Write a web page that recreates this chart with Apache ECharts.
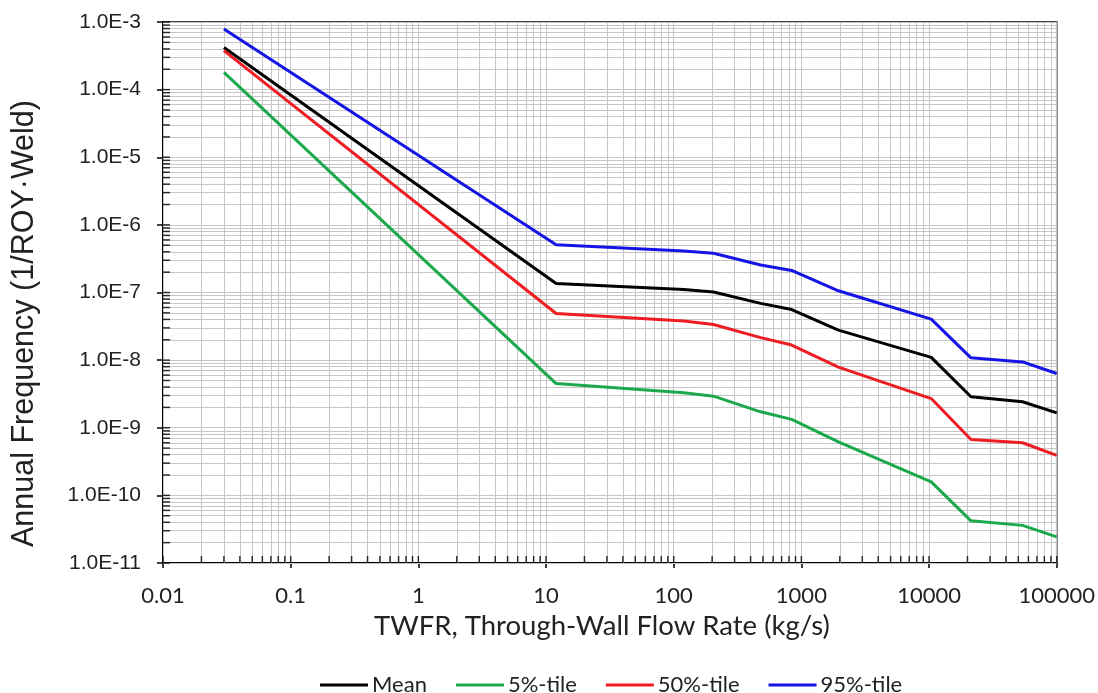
<!DOCTYPE html>
<html>
<head>
<meta charset="utf-8">
<script src="https://cdn.jsdelivr.net/npm/echarts@6/dist/echarts.min.js"></script>
<style>
html,body{margin:0;padding:0;background:#fff;}
#chart{width:1098px;height:693px;}
</style>
</head>
<body>
<div id="chart"></div>
<script>
// ---- data ----
const xVals   = [0.03, 12, 120, 205, 480, 840, 1950, 10400, 21300, 54000, 100000];
const meanVals = [4.2e-4, 1.36e-7, 1.11e-7, 1.02e-7, 6.9e-8, 5.6e-8, 2.78e-8, 1.1e-8, 2.87e-9, 2.42e-9, 1.66e-9];
const p5Vals   = [1.8e-4, 4.5e-9, 3.3e-9, 2.93e-9, 1.72e-9, 1.33e-9, 6.2e-10, 1.58e-10, 4.2e-11, 3.6e-11, 2.43e-11];
const p50Vals  = [3.77e-4, 4.9e-8, 3.78e-8, 3.37e-8, 2.15e-8, 1.67e-8, 7.9e-9, 2.7e-9, 6.7e-10, 6.0e-10, 3.9e-10];
const p95Vals  = [7.9e-4, 5.1e-7, 4.1e-7, 3.8e-7, 2.55e-7, 2.12e-7, 1.06e-7, 4.04e-8, 1.08e-8, 9.4e-9, 6.35e-9];
const seriesNames = ['Mean', '5%-tile', '50%-tile', '95%-tile'];
const xTickLabels = ['0.01', '0.1', '1', '10', '100', '1000', '10000', '100000'];
const yTickLabels = ['1.0E-11', '1.0E-10', '1.0E-9', '1.0E-8', '1.0E-7', '1.0E-6', '1.0E-5', '1.0E-4', '1.0E-3'];
const xExpMin = -2, xExpMax = 5, yExpMin = -11, yExpMax = -3;

// ---- helpers ----
const colors = ['#000000', '#1ba94c', '#ee1d23', '#1414e6'];
const valueSets = [meanVals, p5Vals, p50Vals, p95Vals];
function pairs(xs, ys) { return xs.map((x, i) => [x, ys[i]]); }
function logPositions(eMin, eMax) {
  const out = [];
  for (let e = eMin; e < eMax; e++) for (let k = 1; k <= 9; k++) out.push(k * Math.pow(10, e));
  out.push(Math.pow(10, eMax));
  return out;
}
const xGrid = logPositions(xExpMin, xExpMax);
const yGrid = logPositions(yExpMin, yExpMax);
const xMin = Math.pow(10, xExpMin), xMax = Math.pow(10, xExpMax);
const yMin = Math.pow(10, yExpMin), yMax = Math.pow(10, yExpMax);

const calibri = 'Lato, "Open Sans", sans-serif';
const arial = '"Liberation Sans", Arial, sans-serif';

const chart = echarts.init(document.getElementById('chart'), null, { renderer: 'canvas' });

const lineSeries = seriesNames.map((n, i) => ({
  name: n, type: 'line', data: pairs(xVals, valueSets[i]),
  showSymbol: false, symbol: 'none', z: 5,
  lineStyle: { color: colors[i], width: 3 }, itemStyle: { color: colors[i] }
}));

const gridLineStyle = { color: '#c6c6c6', width: 1, type: 'solid' };

const helperSeries = [
  { // grid lines
    name: 'gridlines', type: 'line', data: [], silent: true, z: 1, symbol: 'none',
    markLine: { silent: true, symbol: ['none', 'none'], label: { show: false }, animation: false,
      lineStyle: gridLineStyle,
      data: xGrid.map(v => [{ coord: [v, yMin] }, { coord: [v, yMax] }])
        .concat(yGrid.map(v => [{ coord: [xMin, v] }, { coord: [xMax, v] }])) }
  },
  { // inner ticks along x axis
    name: 'xticks', type: 'scatter', clip: false, silent: true, z: 6,
    data: xGrid.map(v => [v, yMin]),
    symbol: 'rect', symbolSize: [1.5, 7], symbolOffset: [0, -3.5],
    itemStyle: { color: '#000' }
  },
  { // inner ticks along y axis
    name: 'yticks', type: 'scatter', clip: false, silent: true, z: 6,
    data: yGrid.map(v => [xMin, v]),
    symbol: 'rect', symbolSize: [7, 1.5], symbolOffset: [3.5, 0],
    itemStyle: { color: '#000' }
  }
];

const option = {
  animation: false,
  backgroundColor: '#fff',
  grid: { left: 163, right: 39, top: 22, bottom: 130, show: true, borderColor: '#000', borderWidth: 1.5, backgroundColor: 'transparent' },
  legend: {
    data: seriesNames, top: 669, left: 315,
    icon: 'rect', itemWidth: 48, itemHeight: 3, itemGap: 29,
    textStyle: { fontFamily: calibri, fontSize: 22, color: '#222', padding: [0, 0, 0, -1] }
  },
  xAxis: {
    type: 'log', logBase: 10, min: xMin, max: xMax,
    name: 'TWFR, Through-Wall Flow Rate (kg/s)', nameLocation: 'middle', nameGap: 49,
    nameTextStyle: { fontFamily: calibri, fontSize: 27.5, color: '#222', padding: [0, 16, 0, 0] },
    axisLine: { show: true, lineStyle: { color: '#000', width: 2 } },
    axisTick: { show: true, inside: false, length: 5, lineStyle: { color: '#000', width: 1.5 } },
    splitLine: { show: false },
    axisLabel: { fontFamily: calibri, fontSize: 22, color: '#222', margin: 22,
      formatter: v => xTickLabels[Math.round(Math.log10(v)) - xExpMin] }
  },
  yAxis: {
    type: 'log', logBase: 10, min: yMin, max: yMax,
    name: 'Annual Frequency (1/ROY\u00B7Weld)', nameLocation: 'middle', nameGap: 123,
    nameTextStyle: { fontFamily: arial, fontSize: 30.5, color: '#222', padding: [0, 62, 0, 0] },
    axisLine: { show: true, lineStyle: { color: '#000', width: 2 } },
    axisTick: { show: true, inside: false, length: 6, lineStyle: { color: '#000', width: 1.5 } },
    splitLine: { show: false },
    axisLabel: { fontFamily: arial, fontSize: 21, color: '#222', margin: 22,
      formatter: v => yTickLabels[Math.round(Math.log10(v)) - yExpMin] }
  },
  series: helperSeries.concat(lineSeries)
};
chart.setOption(option);
</script>
</body>
</html>
